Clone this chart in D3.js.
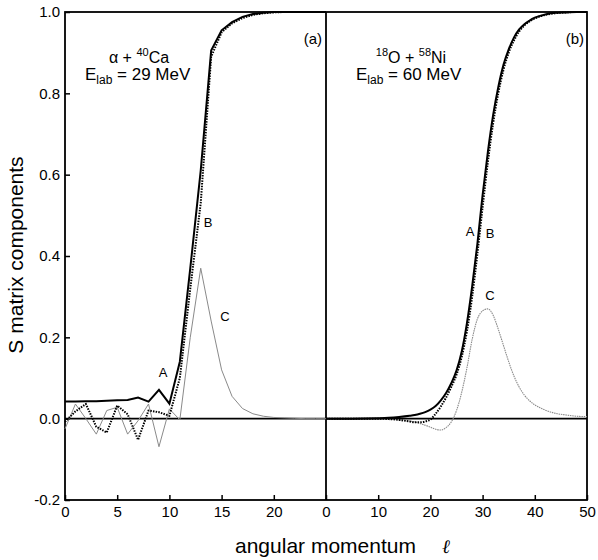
<!DOCTYPE html>
<html lang="en">
<head>
<meta charset="utf-8">
<title>S matrix components</title>
<script src="https://cdn.jsdelivr.net/npm/d3@7"></script>
<style>
  body { margin: 0; background: #fff; }
  svg text { font-family: "Liberation Sans", Arial, sans-serif; fill: #000; }
  .axis text { font-size: 15px; }
  .axis line { stroke: #000; stroke-width: 1.5; }
</style>
</head>
<body>
<script>
// left panel (a): alpha + 40Ca, l = 0..25
var leftL = d3.range(0, 26);
var leftA = [0.042, 0.042, 0.043, 0.043, 0.044, 0.045, 0.046, 0.052, 0.042, 0.071, 0.037, 0.14, 0.37, 0.61, 0.905, 0.955, 0.975, 0.988, 0.995, 0.998, 1, 1, 1, 1, 1, 1];
var leftB = [-0.008, 0.018, 0.036, -0.02, -0.034, 0.032, 0.011, -0.052, 0.02, 0.016, 0.007, 0.1, 0.32, 0.53, 0.89, 0.95, 0.972, 0.985, 0.993, 0.997, 0.999, 1, 1, 1, 1, 1];
var leftC = [-0.025, 0.036, 0.0, -0.038, 0.02, 0.028, -0.038, -0.005, 0.036, -0.069, 0.024, -0.003, 0.2, 0.37, 0.24, 0.12, 0.055, 0.025, 0.012, 0.006, 0.003, 0.002, 0.001, 0, 0, 0];

// right panel (b): 18O + 58Ni, l = 0..50
var rightL = [0, 5, 10, 12, 14, 16, 17, 18, 19, 20, 21, 22, 23, 24, 25, 26, 27, 28, 29, 30, 31, 32, 33, 34, 35, 36, 37, 38, 39, 40, 42, 44, 46, 48, 50];
var rightA = [0, 0, 0.001, 0.002, 0.004, 0.007, 0.009, 0.012, 0.016, 0.022, 0.031, 0.045, 0.063, 0.087, 0.118, 0.165, 0.235, 0.325, 0.43, 0.55, 0.655, 0.745, 0.815, 0.87, 0.908, 0.937, 0.957, 0.97, 0.979, 0.986, 0.994, 0.998, 0.999, 1, 1];
var rightB = [0, 0, 0, -0.001, -0.003, -0.007, -0.009, -0.009, -0.007, -0.002, 0.012, 0.03, 0.052, 0.078, 0.108, 0.152, 0.215, 0.3, 0.405, 0.52, 0.63, 0.725, 0.8, 0.858, 0.9, 0.93, 0.952, 0.967, 0.977, 0.984, 0.993, 0.997, 0.999, 1, 1];
var rightC = [0, 0, 0, -0.001, -0.003, -0.006, -0.008, -0.012, -0.016, -0.021, -0.026, -0.028, -0.022, -0.008, 0.02, 0.065, 0.125, 0.195, 0.245, 0.265, 0.27, 0.255, 0.22, 0.18, 0.14, 0.105, 0.078, 0.058, 0.044, 0.034, 0.021, 0.013, 0.009, 0.006, 0.005];

var yTicks = [-0.2, 0.0, 0.2, 0.4, 0.6, 0.8, 1.0];
var leftTicks = [0, 5, 10, 15, 20];
var rightTicks = [0, 10, 20, 30, 40, 50];

var w = 598, h = 560;
var x0 = 65, xMid = 326, x1 = 587;
var yTop = 12, yBot = 500;

var svg = d3.select("body").append("svg")
    .attr("width", w)
    .attr("height", h);

var xLeft = d3.scaleLinear().domain([0, 25]).range([x0, xMid]);
var xRight = d3.scaleLinear().domain([0, 50]).range([xMid, x1]);
var y = d3.scaleLinear().domain([-0.2, 1.0]).range([yBot, yTop]);

// frame and divider
svg.append("rect")
   .attr("x", x0).attr("y", yTop)
   .attr("width", x1 - x0).attr("height", yBot - yTop)
   .attr("fill", "none").attr("stroke", "#000").attr("stroke-width", 1.8);
svg.append("line")
   .attr("x1", xMid).attr("x2", xMid)
   .attr("y1", yTop).attr("y2", yBot)
   .attr("stroke", "#000").attr("stroke-width", 1.8);

// zero line
svg.append("line")
   .attr("x1", x0).attr("x2", x1)
   .attr("y1", y(0)).attr("y2", y(0))
   .attr("stroke", "#000").attr("stroke-width", 1.8);

// axes
svg.append("g").attr("class", "axis")
   .attr("transform", "translate(0," + yBot + ")")
   .call(d3.axisBottom(xLeft).tickValues(leftTicks).tickSizeInner(-5).tickSizeOuter(0).tickPadding(6));
svg.append("g").attr("class", "axis")
   .attr("transform", "translate(0," + yBot + ")")
   .call(d3.axisBottom(xRight).tickValues(rightTicks).tickSizeInner(-5).tickSizeOuter(0).tickPadding(6));
svg.append("g").attr("class", "axis")
   .attr("transform", "translate(" + x0 + ",0)")
   .call(d3.axisLeft(y).tickValues(yTicks)
      .tickFormat(function(d) { return d3.format(".1f")(d).replace("\u2212", "-"); })
      .tickSizeInner(-5).tickSizeOuter(0).tickPadding(5));
svg.selectAll(".axis .domain").remove();

// curves
function drawLine(xs, ls, vs, curve, style) {
    var line = d3.line()
        .x(function(d) { return xs(d[0]); })
        .y(function(d) { return y(d[1]); })
        .curve(curve);
    var p = svg.append("path")
       .datum(ls.map(function(l, i) { return [l, vs[i]]; }))
       .attr("d", line)
       .attr("fill", "none")
       .attr("stroke", style.color)
       .attr("stroke-width", style.width);
    if (style.dash) p.attr("stroke-dasharray", style.dash);
}

var styleA = { color: "#000", width: 2 };
var styleB = { color: "#000", width: 2, dash: "1.5,1.2" };
var styleC = { color: "#8a8a8a", width: 1 };
var styleC2 = { color: "#8a8a8a", width: 1.1, dash: "1.5,0.8" };

drawLine(xLeft, leftL, leftC, d3.curveLinear, styleC);
drawLine(xLeft, leftL, leftB, d3.curveLinear, styleB);
drawLine(xLeft, leftL, leftA, d3.curveLinear, styleA);

drawLine(xRight, rightL, rightC, d3.curveMonotoneX, styleC2);
drawLine(xRight, rightL, rightB, d3.curveMonotoneX, styleB);
drawLine(xRight, rightL, rightA, d3.curveMonotoneX, styleA);

// curve labels
function label(x, yy, t) {
    svg.append("text").attr("x", x).attr("y", yy)
       .attr("text-anchor", "middle").attr("font-size", 13).text(t);
}
label(163, 377, "A");
label(208, 227, "B");
label(225, 321, "C");
label(470, 236, "A");
label(490, 238, "B");
label(490, 300, "C");

// panel labels
svg.append("text").attr("x", 322).attr("y", 44).attr("text-anchor", "end")
   .attr("font-size", 15).text("(a)");
svg.append("text").attr("x", 584).attr("y", 44).attr("text-anchor", "end")
   .attr("font-size", 15).text("(b)");

// reaction annotations
var t1 = svg.append("text").attr("x", 139).attr("y", 63)
   .attr("text-anchor", "middle").attr("font-size", 16);
t1.append("tspan").text("\u03b1 + ");
t1.append("tspan").attr("font-size", 11).attr("dy", -7).text("40");
t1.append("tspan").attr("dy", 7).text("Ca");

var t2 = svg.append("text").attr("x", 85).attr("y", 80).attr("font-size", 17);
t2.append("tspan").text("E");
t2.append("tspan").attr("font-size", 12).attr("dy", 4).text("lab");
t2.append("tspan").attr("dy", -4).text(" = 29 MeV");

var t3 = svg.append("text").attr("x", 411).attr("y", 63)
   .attr("text-anchor", "middle").attr("font-size", 16);
t3.append("tspan").attr("font-size", 11).attr("dy", -7).text("18");
t3.append("tspan").attr("dy", 7).text("O + ");
t3.append("tspan").attr("font-size", 11).attr("dy", -7).text("58");
t3.append("tspan").attr("dy", 7).text("Ni");

var t4 = svg.append("text").attr("x", 356).attr("y", 80).attr("font-size", 17);
t4.append("tspan").text("E");
t4.append("tspan").attr("font-size", 12).attr("dy", 4).text("lab");
t4.append("tspan").attr("dy", -4).text(" = 60 MeV");

// axis titles
var xt = svg.append("text").attr("x", 235).attr("y", 553).attr("font-size", 21);
xt.append("tspan").text("angular momentum");
xt.append("tspan").attr("x", 442).attr("font-style", "italic")
   .attr("font-family", "'DejaVu Serif', serif").attr("font-size", 19).text("\u2113");

svg.append("text")
   .attr("transform", "translate(23,255) rotate(-90)")
   .attr("text-anchor", "middle").attr("font-size", 21)
   .text("S matrix components");
</script>
</body>
</html>
